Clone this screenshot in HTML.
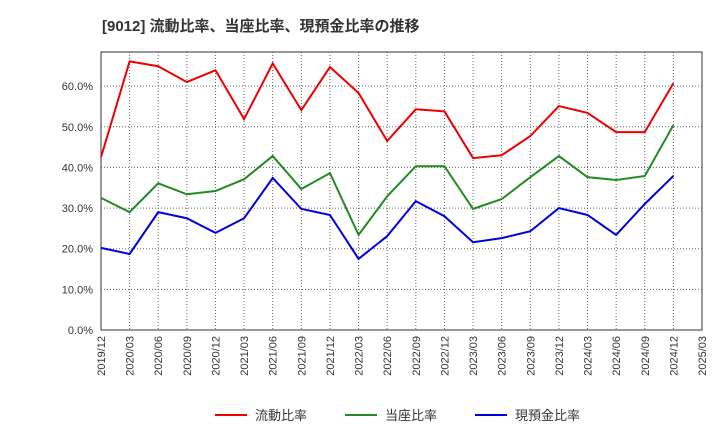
<!DOCTYPE html>
<html><head><meta charset="utf-8"><style>
body{margin:0;background:#fff;font-family:"Liberation Sans","Noto Sans CJK JP",sans-serif;}
svg text{font-family:"Liberation Sans","Noto Sans CJK JP",sans-serif;}
</style></head><body>
<svg id="chart" width="720" height="440" xmlns="http://www.w3.org/2000/svg">
<text x="102" y="31" font-size="15" font-weight="bold" fill="#333">[9012]  流動比率、当座比率、現預金比率の推移</text>
<g id="grid"></g><g id="axes"></g><g id="series"></g><g id="legend"></g>
</svg>
<script>
const categories=["2019/12","2020/03","2020/06","2020/09","2020/12","2021/03","2021/06","2021/09","2021/12","2022/03","2022/06","2022/09","2022/12","2023/03","2023/06","2023/09","2023/12","2024/03","2024/06","2024/09","2024/12","2025/03"];
const currentRatio=[42.5,66.1,64.9,61.0,63.9,51.9,65.6,54.1,64.7,58.3,46.5,54.3,53.8,42.3,43.0,47.7,55.1,53.4,48.7,48.7,60.7];
const quickRatio=[32.5,29.0,36.1,33.4,34.2,37.1,42.8,34.7,38.6,23.4,32.9,40.3,40.3,29.8,32.2,37.6,42.8,37.6,36.9,37.9,50.4];
const cashRatio=[20.2,18.7,29.0,27.5,23.9,27.5,37.4,29.8,28.3,17.5,23.1,31.7,28.0,21.6,22.6,24.3,30.0,28.3,23.4,31.0,37.9];
const yTicks=[0,10,20,30,40,50,60];
const seriesNames=["流動比率","当座比率","現預金比率"];
const seriesColors=["#e00","#228b22","#00d"];
const L=101,R=702,T=52,B=330,yMax=68.4;
const xs=i=>L+i*(R-L)/(categories.length-1);
const ys=v=>B-v/yMax*(B-T);
const NS="http://www.w3.org/2000/svg";
function mk(p,t,a){const e=document.createElementNS(NS,t);for(const k in a)e.setAttribute(k,a[k]);p.appendChild(e);return e;}
const grid=document.getElementById('grid'),axes=document.getElementById('axes'),ser=document.getElementById('series'),leg=document.getElementById('legend');
const bg=mk(grid,'rect',{x:L,y:T,width:R-L,height:B-T,fill:'#fff',stroke:'#333'});


yTicks.forEach(v=>{
 const y=ys(v);
 if(v>0){const g=mk(grid,'line',{x1:L,x2:R,y1:y,y2:y,stroke:'#666','stroke-dasharray':'1,2'});
 
 }
 const t=mk(axes,'text',{x:L-8,y:y+4,'text-anchor':'end','font-size':11,fill:'#333'});
 t.textContent=v.toFixed(1)+'%';
 
 
});
categories.forEach((c,i)=>{
 const x=xs(i);
 if(i>0&&i<categories.length-1){const g=mk(grid,'line',{x1:x,x2:x,y1:T,y2:B,stroke:'#666','stroke-dasharray':'1,2'});
 
 }
 const t=mk(axes,'text',{x:0,y:0,'text-anchor':'end','font-size':11,fill:'#333',transform:`translate(${x+4},${B+6}) rotate(-90)`});
 t.textContent=c;
 
 
});
[currentRatio,quickRatio,cashRatio].forEach((d,s)=>{
 const p=mk(ser,'polyline',{points:d.map((v,i)=>xs(i)+','+ys(v)).join(' '),fill:'none',stroke:seriesColors[s],'stroke-width':2});
 
 
});
const lx=[215,345,475];
seriesNames.forEach((n,s)=>{
 const g=mk(leg,'g',{});
 
 
 mk(g,'line',{x1:lx[s],x2:lx[s]+32,y1:415,y2:415,stroke:seriesColors[s],'stroke-width':2});
 const t=mk(g,'text',{x:lx[s]+40,y:420,'font-size':13,fill:'#333'});t.textContent=n;
});
</script>
</body></html>
